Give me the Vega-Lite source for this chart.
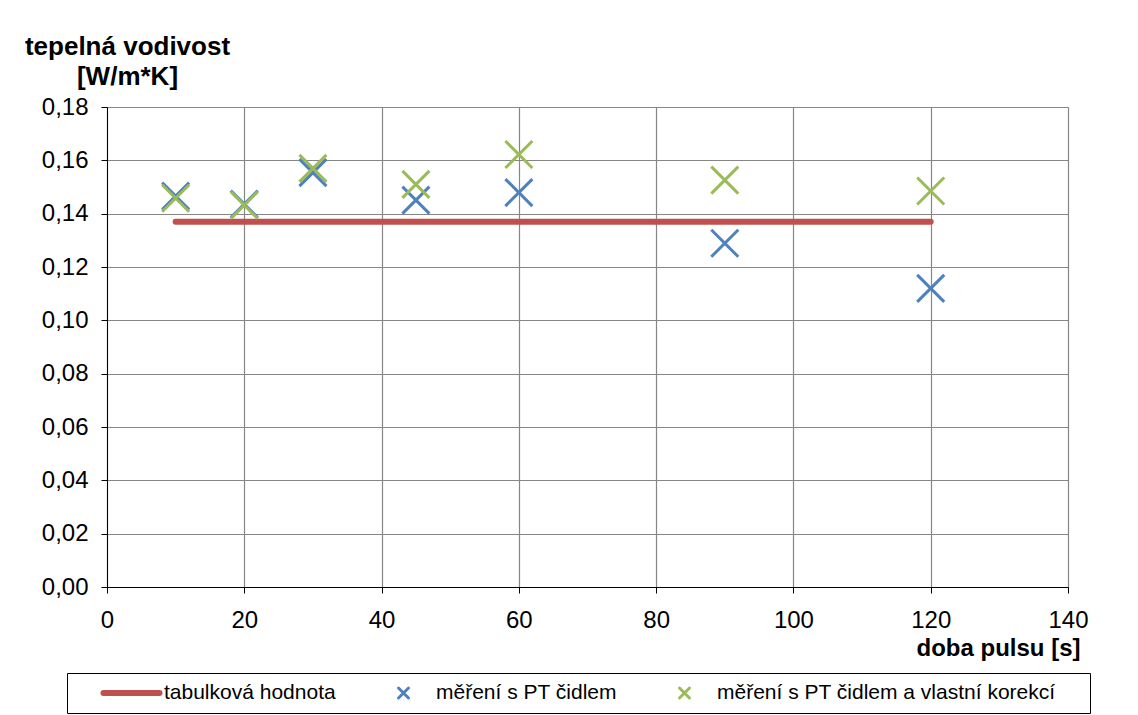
{
  "$schema": "https://vega.github.io/schema/vega-lite/v6.json",
  "width": 961,
  "height": 480,
  "autosize": "none",
  "padding": {"left": 107, "top": 107, "right": 70, "bottom": 128},
  "background": "white",
  "config": {
    "font": "Liberation Sans",
    "view": {"stroke": "#868686", "strokeWidth": 1},
    "axis": {"labelFont": "Liberation Sans", "titleFont": "Liberation Sans", "labelColor": "black", "titleColor": "black", "gridColor": "#868686", "gridWidth": 1.2, "domainColor": "black", "tickColor": "black", "tickSize": 6}
  },
  "datasets": {
    "line": [
      {"x": 10, "y": 0.137, "s": "tabulková hodnota"},
      {"x": 120, "y": 0.137, "s": "tabulková hodnota"}
    ],
    "pts": [
      {"x": 10, "y": 0.1466, "s": "měření s PT čidlem"},
      {"x": 20, "y": 0.1436, "s": "měření s PT čidlem"},
      {"x": 30, "y": 0.1554, "s": "měření s PT čidlem"},
      {"x": 45, "y": 0.1451, "s": "měření s PT čidlem"},
      {"x": 60, "y": 0.1479, "s": "měření s PT čidlem"},
      {"x": 90, "y": 0.1289, "s": "měření s PT čidlem"},
      {"x": 120, "y": 0.1120, "s": "měření s PT čidlem"},
      {"x": 10, "y": 0.1458, "s": "měření s PT čidlem a vlastní korekcí"},
      {"x": 20, "y": 0.1432, "s": "měření s PT čidlem a vlastní korekcí"},
      {"x": 30, "y": 0.1570, "s": "měření s PT čidlem a vlastní korekcí"},
      {"x": 45, "y": 0.1510, "s": "měření s PT čidlem a vlastní korekcí"},
      {"x": 60, "y": 0.1622, "s": "měření s PT čidlem a vlastní korekcí"},
      {"x": 90, "y": 0.1526, "s": "měření s PT čidlem a vlastní korekcí"},
      {"x": 120, "y": 0.1485, "s": "měření s PT čidlem a vlastní korekcí"}
    ]
  },
  "encoding": {
    "x": {
      "field": "x", "type": "quantitative",
      "scale": {"domain": [0, 140], "nice": false, "zero": false},
      "axis": {
        "values": [0, 20, 40, 60, 80, 100, 120, 140],
        "title": "doba pulsu [s]",
        "titleFontSize": 24, "titleFontWeight": "bold",
        "titleAnchor": null, "titleAlign": "right", "titleX": 973, "titleY": 68, "titleBaseline": "alphabetic",
        "labelFontSize": 24, "labelPadding": 15, "labelFlush": false,
        "grid": true
      }
    },
    "y": {
      "field": "y", "type": "quantitative",
      "scale": {"domain": [0, 0.18], "nice": false},
      "axis": {
        "values": [0, 0.02, 0.04, 0.06, 0.08, 0.1, 0.12, 0.14, 0.16, 0.18],
        "labelExpr": "replace(format(datum.value, '.2f'), '.', ',')",
        "title": ["tepelná vodivost", "[W/m*K]"],
        "titleFontSize": 26, "titleFontWeight": "bold",
        "titleAngle": 0, "titleAnchor": null, "titleAlign": "center", "titleBaseline": "alphabetic",
        "titleX": 20, "titleY": -53, "titleLineHeight": 30,
        "labelFontSize": 24, "labelPadding": 13,
        "grid": true
      }
    },
    "color": {
      "field": "s", "type": "nominal",
      "scale": {
        "domain": ["tabulková hodnota", "měření s PT čidlem", "měření s PT čidlem a vlastní korekcí"],
        "range": ["#C0504D", "#4F81BD", "#9BBB59"]
      },
      "sort": null,
      "legend": {
        "title": " ",
        "titleOrient": "right",
        "titlePadding": 25,
        "titleFontSize": 16,
        "orient": "none",
        "direction": "horizontal",
        "legendX": -40,
        "legendY": 566,
        "padding": 10,
        "clipHeight": 20,
        "strokeColor": "black",
        "fillColor": "white",
        "symbolSize": 400,
        "symbolOffset": 44,
        "labelOffset": 22,
        "columnPadding": 13,
        "labelFontSize": 21,
        "labelFont": "Liberation Sans",
        "labelColor": "black",
        "labelLimit": 500,
        "symbolStrokeWidth": 3,
        "encode": {
          "symbols": {"update": {"strokeWidth": {"signal": "datum.value === 'tabulková hodnota' ? 6 : 3"}, "size": {"value": 400}, "strokeCap": {"value": "round"}}}
        }
      }
    }
  },
  "layer": [
    {
      "data": {"name": "line"},
      "mark": {"type": "line", "strokeWidth": 6, "strokeCap": "round"}
    },
    {
      "data": {"name": "pts"},
      "mark": {"type": "point", "filled": false, "strokeWidth": 3, "size": 2916, "opacity": 1},
      "encoding": {
        "shape": {
          "field": "s", "type": "nominal",
          "scale": {
            "domain": ["tabulková hodnota", "měření s PT čidlem", "měření s PT čidlem a vlastní korekcí"],
            "range": ["M-2.8,0L2.8,0", "M-0.5,-0.5L0.5,0.5M-0.5,0.5L0.5,-0.5", "M-0.5,-0.5L0.5,0.5M-0.5,0.5L0.5,-0.5"]
          },
          "sort": null,
          "legend": {
            "title": " ",
            "orient": "none",
            "direction": "horizontal",
            "legendX": -40,
            "legendY": 566
          }
        }
      }
    }
  ]
}
